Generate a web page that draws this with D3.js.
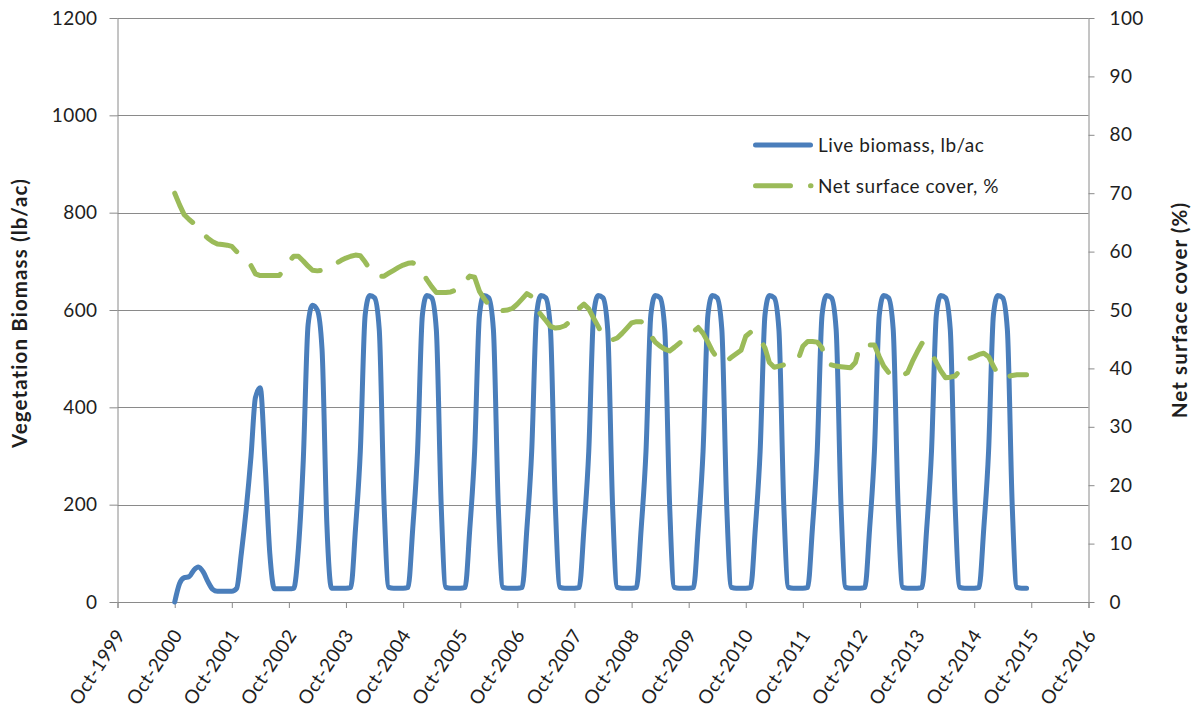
<!DOCTYPE html>
<html>
<head>
<meta charset="utf-8">
<script src="https://cdn.jsdelivr.net/npm/d3@7"></script>
<style>
  body { margin: 0; background: #fff; }
  svg { display: block; }
  text { font-family: Lato, "Open Sans", sans-serif; fill: #1e1e1e; }
</style>
</head>
<body>
<svg id="chart" width="1193" height="708"></svg>
<script>
// Monthly series, first value = Oct 2000, last value = Sep 2015
const firstMonth = [2000, 9];

// Live biomass (lb/ac), one row per season Oct..Sep
const liveBiomass = [
  0, 38, 50, 52, 66, 72, 62, 42, 26, 22, 22, 22,          // 2000-01
  22, 28, 100, 190, 300, 420, 440, 290, 100, 27, 27, 27,  // 2001-02
  27, 28, 110, 290, 570, 610, 600, 520, 160, 28, 28, 28,  // 2002-03
  28, 30, 150, 310, 590, 630, 625, 560, 200, 30, 28, 28,  // 2003-04
  28, 30, 150, 310, 590, 630, 625, 560, 200, 30, 28, 28,  // 2004-05
  28, 30, 150, 310, 590, 630, 625, 560, 200, 30, 28, 28,  // 2005-06
  28, 30, 150, 310, 590, 630, 625, 560, 200, 30, 28, 28,  // 2006-07
  28, 30, 150, 310, 590, 630, 625, 560, 200, 30, 28, 28,  // 2007-08
  28, 30, 150, 310, 590, 630, 625, 560, 200, 30, 28, 28,  // 2008-09
  28, 30, 150, 310, 590, 630, 625, 560, 200, 30, 28, 28,  // 2009-10
  28, 30, 150, 310, 590, 630, 625, 560, 200, 30, 28, 28,  // 2010-11
  28, 30, 150, 310, 590, 630, 625, 560, 200, 30, 28, 28,  // 2011-12
  28, 30, 150, 310, 590, 630, 625, 560, 200, 30, 28, 28,  // 2012-13
  28, 30, 150, 310, 590, 630, 625, 560, 200, 30, 28, 28,  // 2013-14
  28, 30, 150, 310, 590, 630, 625, 560, 200, 30, 28, 28   // 2014-15
];

// Net surface cover (%), same months
const netCover = [
  70.0, 68.0, 66.3, 65.5, 64.8, 64.0, 63.0, 62.3, 61.7, 61.3, 61.2, 61.1,
  60.9, 60.0, 59.3, 58.5, 57.6, 56.2, 55.9, 55.9, 55.9, 55.9, 55.9, 57.0,
  58.3, 59.2, 59.2, 58.4, 57.5, 56.8, 56.7, 56.8, 57.1, 57.6, 58.0, 58.5,
  58.9, 59.2, 59.4, 59.3, 58.2, 57.0, 56.0, 55.8, 55.8, 56.3, 56.8, 57.3,
  57.7, 58.0, 58.1, 57.5, 56.5, 55.2, 54.0, 53.0, 53.0, 53.0, 53.1, 53.4,
  54.2, 55.0, 55.8, 55.6, 53.2, 52.0, 50.9, 50.0, 49.8, 49.9, 50.0, 50.3,
  51.0, 51.9, 52.8, 52.3, 50.2, 49.2, 48.2, 47.2, 46.9, 47.0, 47.3, 48.0,
  48.9, 50.3, 51.0, 50.2, 48.6, 47.2, 45.5, 44.9, 44.9, 45.2, 46.0, 46.9,
  47.8, 48.0, 48.0, 46.9, 45.6, 44.5, 43.8, 43.3, 43.0, 43.6, 44.3, 45.0,
  45.5, 46.3, 47.0, 46.0, 44.5, 43.0, 41.8, 41.0, 41.3, 41.9, 42.5, 43.1,
  45.5, 46.2, 46.2, 45.0, 43.5, 41.0, 40.2, 40.4, 40.6, 40.9, 41.2, 41.5,
  43.8, 44.6, 44.6, 44.5, 43.5, 40.8, 40.6, 40.4, 40.3, 40.2, 40.1, 41.0,
  44.0, 44.0, 44.0, 44.0, 42.0, 40.4, 39.3, 38.6, 38.4, 38.8, 39.3, 41.2,
  42.8, 44.3, 43.7, 42.6, 41.0, 39.6, 38.4, 38.5, 38.7, 39.6, 40.7, 41.7,
  42.0, 42.4, 42.6, 42.0, 40.4, 39.0, 38.2, 38.5, 38.8, 38.9, 38.9, 38.9
];

const biomassTicks = [0, 200, 400, 600, 800, 1000, 1200];
const coverTicks = [0, 10, 20, 30, 40, 50, 60, 70, 80, 90, 100];
const tickYears = d3.range(1999, 2017);
const seriesNames = ["Live biomass, lb/ac", "Net surface cover, %"];
const axisTitles = ["Vegetation Biomass (lb/ac)", "Net surface cover (%)"];

const colors = { biomass: "#4a7ebb", cover: "#9bbb59", grid: "#8a8a8a" };
const labelFont = { size: 19, spacing: "0.4px" };

const svg = d3.select("#chart");
const plot = { left: 117.5, right: 1088.5, top: 18, bottom: 602 };

const months = liveBiomass.map((_, i) =>
  d3.utcMonth.offset(new Date(Date.UTC(firstMonth[0], firstMonth[1], 1)), i));
const tickDates = tickYears.map(y => new Date(Date.UTC(y, 9, 1)));

const x = d3.scaleUtc()
  .domain([tickDates[0], tickDates[tickDates.length - 1]])
  .range([plot.left, plot.right]);
const yLeft = d3.scaleLinear().domain([0, 1200]).range([plot.bottom, plot.top]);
const yRight = d3.scaleLinear().domain([0, 100]).range([plot.bottom, plot.top]);

// horizontal gridlines on the biomass scale
svg.append("g")
  .selectAll("line")
  .data(biomassTicks)
  .join("line")
  .attr("x1", plot.left).attr("x2", plot.right)
  .attr("y1", d => Math.round(yLeft(d)) + 0.5).attr("y2", d => Math.round(yLeft(d)) + 0.5)
  .attr("stroke", colors.grid).attr("stroke-width", 1);

// left axis
const gLeft = svg.append("g")
  .attr("transform", `translate(${plot.left},0)`)
  .call(d3.axisLeft(yLeft).tickValues(biomassTicks).tickSize(8).tickPadding(12)
    .tickFormat(d3.format("d")));
// right axis
const gRight = svg.append("g")
  .attr("transform", `translate(${plot.right},0)`)
  .call(d3.axisRight(yRight).tickValues(coverTicks).tickSize(6).tickPadding(15)
    .tickFormat(d3.format("d")));
// bottom axis
const gBottom = svg.append("g")
  .attr("transform", `translate(0,${plot.bottom})`)
  .call(d3.axisBottom(x).tickValues(tickDates).tickSize(6)
    .tickFormat(d3.utcFormat("Oct-%Y")));

[gLeft, gRight, gBottom].forEach(g => {
  g.selectAll(".domain").attr("stroke", colors.grid).attr("stroke-width", 1);
  g.selectAll(".tick line").attr("stroke", colors.grid).attr("stroke-width", 1);
  g.selectAll("text")
    .attr("font-size", labelFont.size)
    .style("font-family", "Lato, sans-serif")
    .style("letter-spacing", labelFont.spacing)
    .attr("fill", "#1e1e1e");
});
gLeft.select(".domain").attr("d", `M0.5,${plot.top}V${plot.bottom}`);
gRight.select(".domain").attr("d", `M0.5,${plot.top}V${plot.bottom}`);

gBottom.selectAll(".tick text")
  .attr("x", 0).attr("y", 0).attr("dy", 0)
  .attr("text-anchor", "end")
  .attr("transform", "translate(8,33) rotate(-57)");

// live biomass line
const biomassLine = d3.line()
  .x((d, i) => x(months[i]))
  .y(d => yLeft(d))
  .curve(d3.curveMonotoneX);
svg.append("path")
  .datum(liveBiomass)
  .attr("d", biomassLine)
  .attr("fill", "none")
  .attr("stroke", colors.biomass)
  .attr("stroke-width", 5)
  .attr("stroke-linejoin", "round")
  .attr("stroke-linecap", "round");

// net surface cover line (long dash)
const coverLine = d3.line()
  .x((d, i) => x(months[i]))
  .y(d => yRight(d));
const dashPattern = "35,20";
svg.append("path")
  .datum(netCover)
  .attr("d", coverLine)
  .attr("fill", "none")
  .attr("stroke", colors.cover)
  .attr("stroke-width", 5)
  .attr("stroke-dasharray", dashPattern)
  .attr("stroke-linejoin", "round")
  .attr("stroke-linecap", "round");

// legend
const legend = svg.append("g").attr("transform", "translate(755.5,145)");
const legendRows = legend.selectAll("g")
  .data(seriesNames)
  .join("g")
  .attr("transform", (d, i) => `translate(0,${i * 40.7})`);
legendRows.append("line")
  .attr("x1", 0)
  .attr("x2", (d, i) => i === 0 ? 55 : 55.5)
  .attr("stroke", (d, i) => i === 0 ? colors.biomass : colors.cover)
  .attr("stroke-width", 5)
  .attr("stroke-linecap", "round")
  .attr("stroke-dasharray", (d, i) => i === 0 ? null : dashPattern);
legendRows.append("text")
  .attr("x", 62.5)
  .attr("dy", "0.36em")
  .attr("font-size", labelFont.size)
  .style("letter-spacing", "0.5px")
  .text(d => d);

// axis titles
svg.append("text")
  .attr("transform", `translate(27,${(plot.top + plot.bottom) / 2 + 3}) rotate(-90)`)
  .attr("text-anchor", "middle")
  .attr("font-size", 20.5)
  .attr("font-weight", "bold")
  .style("letter-spacing", "1.1px")
  .text(axisTitles[0]);
svg.append("text")
  .attr("transform", `translate(1187,${(plot.top + plot.bottom) / 2}) rotate(-90)`)
  .attr("text-anchor", "middle")
  .attr("font-size", 20.5)
  .attr("font-weight", "bold")
  .style("letter-spacing", "1.1px")
  .text(axisTitles[1]);
</script>
</body>
</html>
